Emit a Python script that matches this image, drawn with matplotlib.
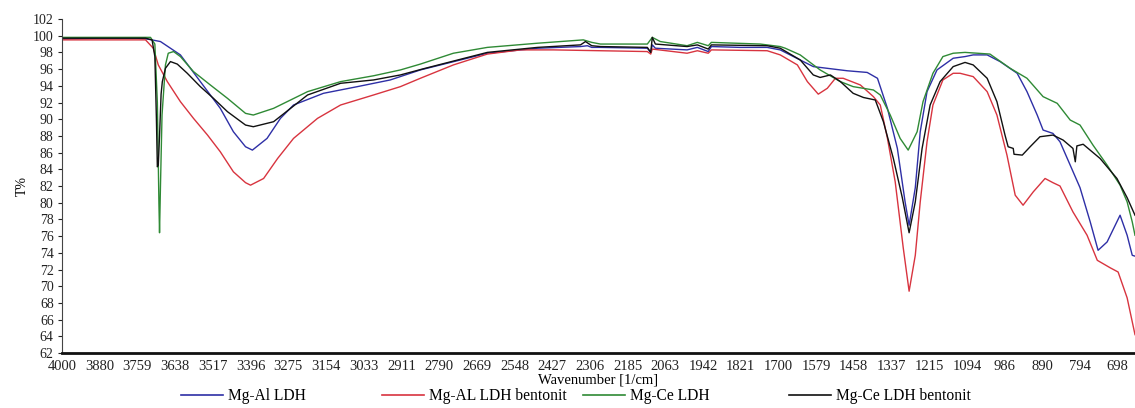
import numpy as np
import matplotlib
matplotlib.use("Agg")
import matplotlib.pyplot as plt
from matplotlib.lines import Line2D

# Axis tick wavenumbers (evenly spaced on the plot, as exported by the spectrometer software)
tick_wn = [4000, 3880, 3759, 3638, 3517, 3396, 3275, 3154, 3033, 2911, 2790,
           2669, 2548, 2427, 2306, 2185, 2063, 1942, 1821, 1700, 1579, 1458,
           1337, 1215, 1094, 986, 890, 794, 698]
y_ticks = list(range(62, 104, 2))

labels = ["Mg-Al LDH", "Mg-AL LDH bentonit", "Mg-Ce LDH", "Mg-Ce LDH bentonit"]
colors = ["#2e2fa6", "#d8343f", "#2f8a35", "#111111"]

# Mg-Al LDH
wn_mgal = [4000, 3878, 3760, 3727, 3685, 3621, 3557, 3493, 3451, 3412, 3390, 3343,
           3300, 3258, 3162, 3053, 2947, 2850, 2635, 2474, 2336, 2314, 2300, 2272,
           2121, 2110, 2105, 2095, 1993, 1960, 1925, 1915, 1822, 1736, 1694, 1588,
           1479, 1415, 1382, 1350, 1318, 1293, 1280, 1260, 1244, 1222, 1190, 1138,
           1100, 1076, 1036, 999, 954, 929, 903, 888, 863, 845, 819, 794, 768, 748,
           725, 692, 674, 661, 654]
t_mgal = [99.6, 99.7, 99.7, 99.6, 99.3, 97.7, 94.5, 91.3, 88.5, 86.7, 86.3, 87.7,
          90.1, 91.7, 93.1, 93.9, 94.7, 95.9, 97.9, 98.5, 98.7, 98.8, 98.6, 98.6,
          98.5, 98.0, 98.9, 98.5, 98.3, 98.6, 98.1, 98.7, 98.6, 98.6, 98.3, 96.3,
          95.8, 95.6, 94.9, 91.3, 86.5, 80.1, 77.3, 81.8, 88.5, 93.3, 95.9, 97.3,
          97.5, 97.7, 97.7, 96.9, 95.5, 93.3, 90.5, 88.7, 88.3, 87.3, 84.5, 81.8,
          77.7, 74.3, 75.3, 78.5, 76.1, 73.7, 73.6]

# Mg-AL LDH bentonit
wn_mgal_b = [4000, 3733, 3708, 3692, 3663, 3621, 3579, 3534, 3493, 3451, 3412, 3396,
             3354, 3309, 3258, 3181, 3107, 3001, 2914, 2850, 2744, 2635, 2529, 2423,
             2272, 2121, 2110, 2105, 1993, 1960, 1925, 1915, 1736, 1694, 1639, 1607,
             1572, 1543, 1517, 1492, 1437, 1395, 1373, 1350, 1325, 1299, 1280, 1260,
             1244, 1222, 1203, 1171, 1138, 1116, 1076, 1036, 1008, 980, 959, 939,
             913, 883, 863, 845, 812, 776, 750, 717, 697, 674, 654]
t_mgal_b = [99.5, 99.5, 98.5, 96.5, 94.5, 92.1, 90.1, 88.1, 86.1, 83.7, 82.4, 82.1,
            82.9, 85.3, 87.7, 90.1, 91.7, 92.9, 93.9, 94.9, 96.5, 97.8, 98.3, 98.3,
            98.2, 98.1, 97.8, 98.4, 97.9, 98.2, 97.9, 98.3, 98.2, 97.7, 96.5, 94.5,
            93.0, 93.7, 94.9, 94.9, 94.1, 92.7, 91.7, 87.7, 82.5, 74.6, 69.4, 73.7,
            80.1, 87.3, 91.7, 94.7, 95.5, 95.5, 95.1, 93.3, 90.5, 85.7, 80.9, 79.7,
            81.3, 82.9, 82.4, 82.0, 78.9, 76.1, 73.1, 72.2, 71.7, 68.6, 64.2]

# Mg-Ce LDH
wn_mgce = [4000, 3717, 3703, 3695, 3690, 3688, 3685, 3680, 3669, 3660, 3643, 3621,
           3579, 3525, 3470, 3412, 3387, 3322, 3213, 3107, 3001, 2914, 2850, 2744,
           2635, 2474, 2327, 2300, 2272, 2121, 2105, 2079, 1993, 1960, 1925, 1915,
           1758, 1694, 1678, 1630, 1566, 1501, 1460, 1395, 1373, 1341, 1309, 1283,
           1254, 1235, 1203, 1171, 1138, 1100, 1028, 972, 929, 888, 852, 819, 794,
           761, 725, 692, 674, 661, 654]
t_mgce = [99.8, 99.8, 99.0, 92.0, 80.0, 76.4, 82.0, 90.5, 96.5, 97.9, 98.1, 97.5,
          95.7, 94.1, 92.5, 90.7, 90.5, 91.3, 93.3, 94.5, 95.2, 95.9, 96.6, 97.9,
          98.6, 99.1, 99.5, 99.2, 99.0, 99.0, 99.8, 99.3, 98.8, 99.2, 98.8, 99.2,
          99.0, 98.7, 98.5, 97.7, 95.9, 94.5, 93.9, 93.5, 92.9, 90.5, 87.7, 86.3,
          88.5, 92.1, 95.5, 97.5, 97.9, 98.0, 97.8, 96.1, 94.9, 92.7, 91.9, 89.9,
          89.3, 86.9, 84.5, 82.1, 80.1, 77.7, 76.1]

# Mg-Ce LDH bentonit
wn_mgce_b = [4000, 3733, 3712, 3703, 3698, 3695, 3692, 3688, 3683, 3679, 3669, 3653,
             3631, 3599, 3557, 3515, 3470, 3412, 3387, 3322, 3213, 3107, 3001, 2914,
             2834, 2635, 2474, 2336, 2320, 2300, 2272, 2121, 2110, 2105, 2095, 1993,
             1960, 1925, 1915, 1736, 1694, 1630, 1588, 1566, 1533, 1501, 1460, 1427,
             1389, 1363, 1331, 1302, 1280, 1260, 1238, 1212, 1180, 1138, 1100, 1076,
             1036, 1008, 985, 977, 964, 962, 941, 921, 896, 863, 837, 812, 806, 802,
             786, 743, 700, 674, 654]
t_mgce_b = [99.7, 99.7, 99.5, 97.5, 90.0, 84.3, 84.5, 88.0, 93.0, 94.5, 96.1, 96.9,
            96.6, 95.5, 93.9, 92.5, 90.9, 89.3, 89.1, 89.7, 92.9, 94.3, 94.7, 95.3,
            96.1, 98.0, 98.6, 98.9, 99.3, 98.8, 98.7, 98.6, 98.0, 99.8, 99.0, 98.7,
            98.9, 98.4, 98.9, 98.8, 98.5, 97.1, 95.3, 95.0, 95.3, 94.5, 93.1, 92.6,
            92.3, 89.7, 85.3, 80.6, 76.4, 80.1, 86.5, 91.7, 94.5, 96.3, 96.8, 96.5,
            94.9, 92.1, 88.1, 86.7, 86.5, 85.8, 85.7, 86.7, 87.9, 88.1, 87.5, 86.5,
            84.9, 86.8, 87.0, 85.3, 82.9, 80.6, 78.5]

series = [(wn_mgal, t_mgal), (wn_mgal_b, t_mgal_b), (wn_mgce, t_mgce), (wn_mgce_b, t_mgce_b)]

# Piecewise mapping wavenumber -> evenly spaced tick slots along the axis
anchor_wn = np.array([5000.0] + tick_wn + [602.0, 0.0])
anchor_pos = np.array([-1000.0 / 121.08] + list(range(len(tick_wn))) + [29.0, 29.0 + 602.0 / 96.0])


def slot(w):
    return np.interp(-np.asarray(w, dtype=float), -anchor_wn, anchor_pos)


plt.rcParams["font.family"] = ["Liberation Serif", "DejaVu Serif"]

fig = plt.figure(figsize=(11.35, 4.08), dpi=100)
ax = fig.add_axes([62 / 1135, 1 - 353 / 408, 1 - 62 / 1135, (353 - 19) / 408])

for (w, t), c in zip(series, colors):
    ax.plot(slot(w), t, color=c, lw=1.0, solid_joinstyle="round")

ax.set_xticks(slot(tick_wn))
ax.set_xticklabels([str(v) for v in tick_wn])
ax.set_xlim(slot(4000), slot(654))

ax.set_ylim(62, 102)
ax.set_yticks(y_ticks)
ax.set_yticklabels([str(v) for v in y_ticks])

ax.tick_params(axis="x", length=0, pad=5, labelsize=10.5, colors="#222222")
ax.tick_params(axis="y", length=3, width=0.8, pad=3, labelsize=10, colors="#222222",
               direction="out")

for side in ("top", "right"):
    ax.spines[side].set_visible(False)
ax.spines["left"].set_linewidth(0.8)
ax.spines["left"].set_color("#444444")
ax.spines["bottom"].set_linewidth(2.0)
ax.spines["bottom"].set_color("#111111")

ax.set_ylabel("T%", fontsize=10, labelpad=3)
ax.set_xlabel("Wavenumber [1/cm]", fontsize=10.5, labelpad=0.5)

# One-row legend below the axes with equally spaced entries
starts = [181, 382, 583, 789]
for lab, c, x0 in zip(labels, colors, starts):
    h = Line2D([], [], color=c, lw=1.2)
    fig.legend([h], [lab], loc="center left", bbox_to_anchor=(x0 / 1135, 1 - 396 / 408),
               frameon=False, borderpad=0, borderaxespad=0, handlelength=2.7,
               handletextpad=0.3, fontsize=11.2)

fig.savefig("out.png", dpi=100)
